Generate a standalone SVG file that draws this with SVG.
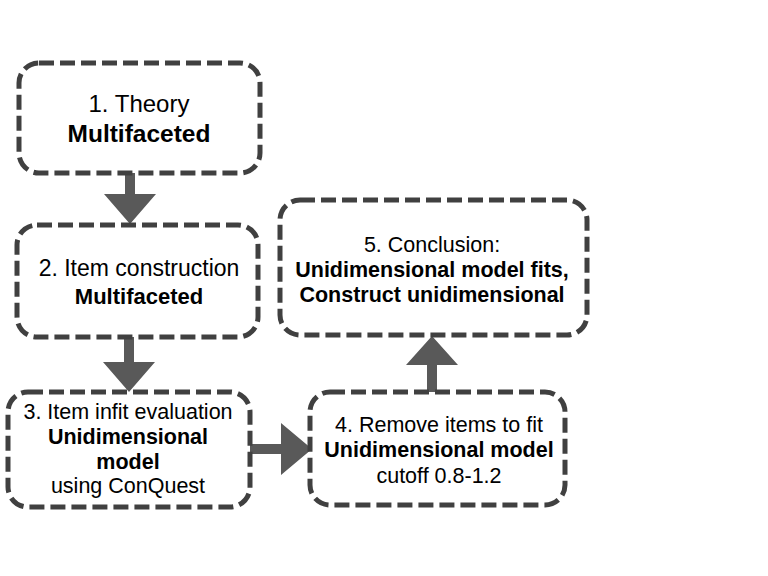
<svg xmlns="http://www.w3.org/2000/svg" width="768" height="576" viewBox="0 0 768 576">
<style>
.box{fill:#fff;stroke:#404040;stroke-width:5;stroke-dasharray:15 6;}
.arr{fill:#595959;stroke:none;}
text{font-family:"Liberation Sans",Arial,sans-serif;fill:#000;text-anchor:middle;}
.b{font-weight:bold;}
</style>
<rect width="768" height="576" fill="#fff"/>
<g id="connectors">
<polygon class="arr" points="125,173 135,173 135,194 156,194 130,224 104,194 125,194"/>
<polygon class="arr" points="124,337 134,337 134,362 155,362 129,392 103,362 124,362"/>
<polygon class="arr" points="250,444 281,444 281,423 312,449 281,475 281,454 250,454"/>
<polygon class="arr" points="427,392 427,365 406,365 432,336 458,365 437,365 437,392"/>
</g>
<g id="node1">
<rect class="box" x="19" y="63" width="241" height="110" rx="20"/>
<text x="139" y="112" font-size="24">1. Theory</text>
<text class="b" x="139" y="142" font-size="24.5">Multifaceted</text>
</g>
<g id="node2">
<rect class="box" x="17" y="225" width="241" height="112" rx="20"/>
<text x="139" y="276" font-size="23">2. Item construction</text>
<text class="b" x="139" y="304" font-size="22">Multifaceted</text>
</g>
<g id="node3">
<rect class="box" x="8" y="392" width="242" height="115" rx="20"/>
<text x="128" y="419" font-size="21.5">3. Item infit evaluation</text>
<text class="b" x="128" y="444" font-size="21.5">Unidimensional</text>
<text class="b" x="128" y="469" font-size="21.5">model</text>
<text x="128" y="493" font-size="21.5">using ConQuest</text>
</g>
<g id="node4">
<rect class="box" x="310" y="392" width="255" height="113" rx="20"/>
<text x="439" y="432" font-size="21.5">4. Remove items to fit</text>
<text class="b" x="439" y="457" font-size="21.5">Unidimensional model</text>
<text x="439" y="483" font-size="21.5">cutoff 0.8-1.2</text>
</g>
<g id="node5">
<rect class="box" x="280" y="200" width="307" height="135" rx="20"/>
<text x="432" y="252" font-size="21.5">5. Conclusion:</text>
<text class="b" x="432" y="277" font-size="21.5">Unidimensional model fits,</text>
<text class="b" x="432" y="302" font-size="21.5">Construct unidimensional</text>
</g>
</svg>
